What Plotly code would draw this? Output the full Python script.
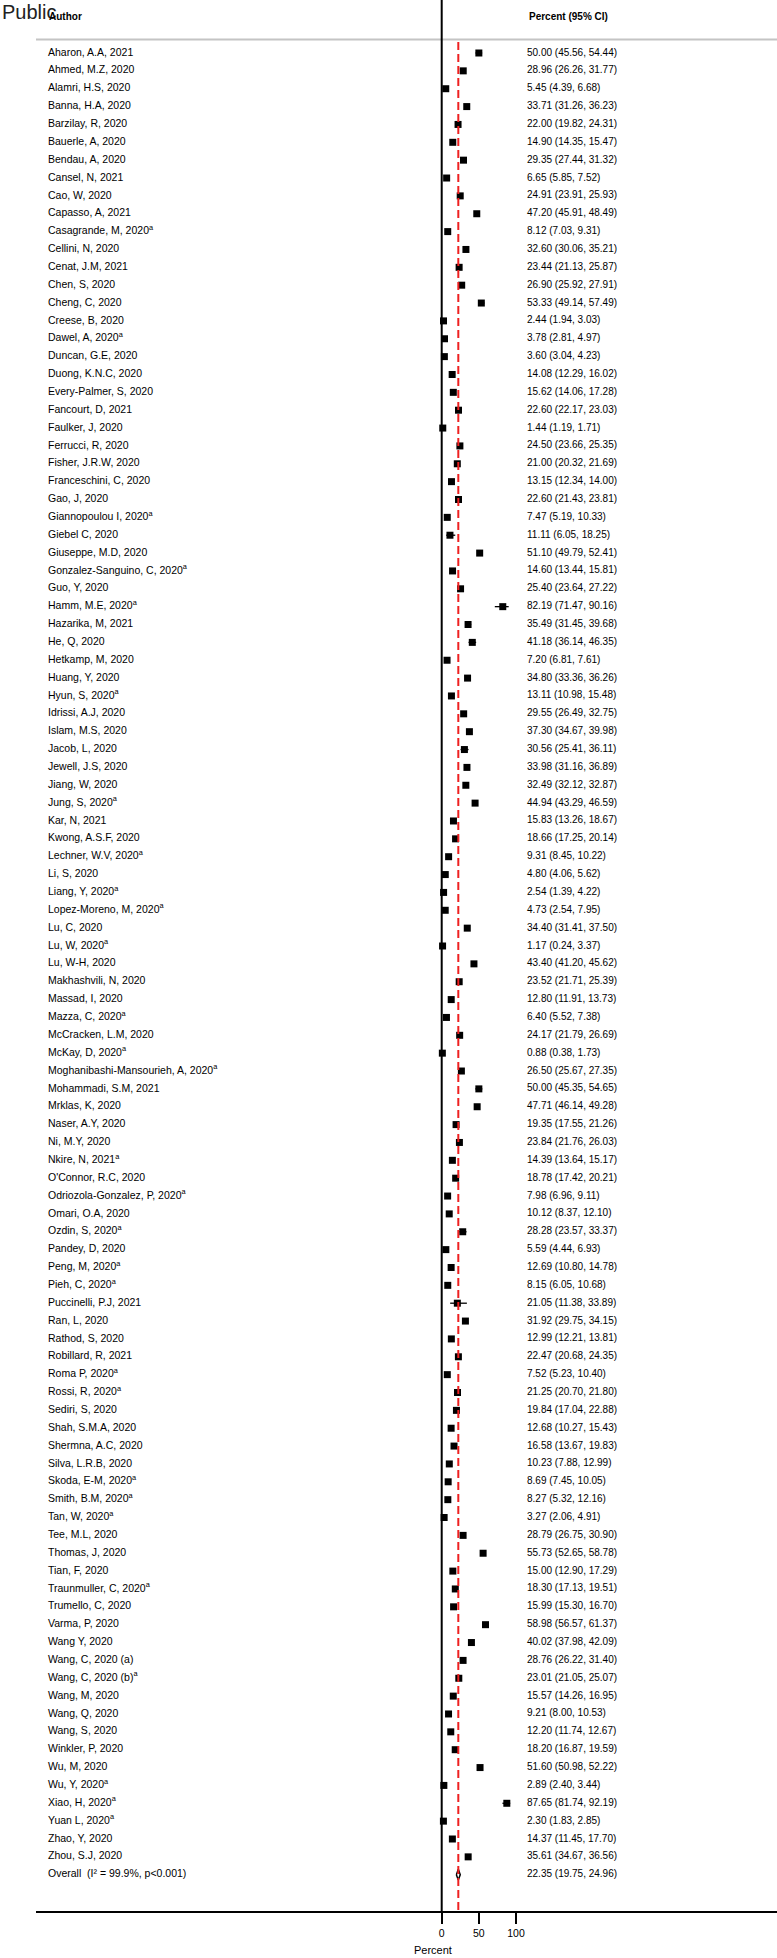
import plotly.graph_objects as go

authors = [
    "Aharon, A.A, 2021", "Ahmed, M.Z, 2020", "Alamri, H.S, 2020", "Banna, H.A, 2020",
    "Barzilay, R, 2020", "Bauerle, A, 2020", "Bendau, A, 2020", "Cansel, N, 2021",
    "Cao, W, 2020", "Capasso, A, 2021", "Casagrande, M, 2020<sup>a</sup>", "Cellini, N, 2020",
    "Cenat, J.M, 2021", "Chen, S, 2020", "Cheng, C, 2020", "Creese, B, 2020",
    "Dawel, A, 2020<sup>a</sup>", "Duncan, G.E, 2020", "Duong, K.N.C, 2020", "Every-Palmer, S, 2020",
    "Fancourt, D, 2021", "Faulker, J, 2020", "Ferrucci, R, 2020", "Fisher, J.R.W, 2020",
    "Franceschini, C, 2020", "Gao, J, 2020", "Giannopoulou I, 2020<sup>a</sup>", "Giebel C, 2020",
    "Giuseppe, M.D, 2020", "Gonzalez-Sanguino, C, 2020<sup>a</sup>", "Guo, Y, 2020", "Hamm, M.E, 2020<sup>a</sup>",
    "Hazarika, M, 2021", "He, Q, 2020", "Hetkamp, M, 2020", "Huang, Y, 2020",
    "Hyun, S, 2020<sup>a</sup>", "Idrissi, A.J, 2020", "Islam, M.S, 2020", "Jacob, L, 2020",
    "Jewell, J.S, 2020", "Jiang, W, 2020", "Jung, S, 2020<sup>a</sup>", "Kar, N, 2021",
    "Kwong, A.S.F, 2020", "Lechner, W.V, 2020<sup>a</sup>", "Li, S, 2020", "Liang, Y, 2020<sup>a</sup>",
    "Lopez-Moreno, M, 2020<sup>a</sup>", "Lu, C, 2020", "Lu, W, 2020<sup>a</sup>", "Lu, W-H, 2020",
    "Makhashvili, N, 2020", "Massad, I, 2020", "Mazza, C, 2020<sup>a</sup>", "McCracken, L.M, 2020",
    "McKay, D, 2020<sup>a</sup>", "Moghanibashi-Mansourieh, A, 2020<sup>a</sup>", "Mohammadi, S.M, 2021", "Mrklas, K, 2020",
    "Naser, A.Y, 2020", "Ni, M.Y, 2020", "Nkire, N, 2021<sup>a</sup>", "O'Connor, R.C, 2020",
    "Odriozola-Gonzalez, P, 2020<sup>a</sup>", "Omari, O.A, 2020", "Ozdin, S, 2020<sup>a</sup>", "Pandey, D, 2020",
    "Peng, M, 2020<sup>a</sup>", "Pieh, C, 2020<sup>a</sup>", "Puccinelli, P.J, 2021", "Ran, L, 2020",
    "Rathod, S, 2020", "Robillard, R, 2021", "Roma P, 2020<sup>a</sup>", "Rossi, R, 2020<sup>a</sup>",
    "Sediri, S, 2020", "Shah, S.M.A, 2020", "Shermna, A.C, 2020", "Silva, L.R.B, 2020",
    "Skoda, E-M, 2020<sup>a</sup>", "Smith, B.M, 2020<sup>a</sup>", "Tan, W, 2020<sup>a</sup>", "Tee, M.L, 2020",
    "Thomas, J, 2020", "Tian, F, 2020", "Traunmuller, C, 2020<sup>a</sup>", "Trumello, C, 2020",
    "Varma, P, 2020", "Wang Y, 2020", "Wang, C, 2020 (a)", "Wang, C, 2020 (b)<sup>a</sup>",
    "Wang, M, 2020", "Wang, Q, 2020", "Wang, S, 2020", "Winkler, P, 2020",
    "Wu, M, 2020", "Wu, Y, 2020<sup>a</sup>", "Xiao, H, 2020<sup>a</sup>", "Yuan L, 2020<sup>a</sup>",
    "Zhao, Y, 2020", "Zhou, S.J, 2020",
]

est = [50.00, 28.96, 5.45, 33.71, 22.00, 14.90, 29.35, 6.65, 24.91, 47.20, 8.12, 32.60,
       23.44, 26.90, 53.33, 2.44, 3.78, 3.60, 14.08, 15.62, 22.60, 1.44, 24.50, 21.00,
       13.15, 22.60, 7.47, 11.11, 51.10, 14.60, 25.40, 82.19, 35.49, 41.18, 7.20, 34.80,
       13.11, 29.55, 37.30, 30.56, 33.98, 32.49, 44.94, 15.83, 18.66, 9.31, 4.80, 2.54,
       4.73, 34.40, 1.17, 43.40, 23.52, 12.80, 6.40, 24.17, 0.88, 26.50, 50.00, 47.71,
       19.35, 23.84, 14.39, 18.78, 7.98, 10.12, 28.28, 5.59, 12.69, 8.15, 21.05, 31.92,
       12.99, 22.47, 7.52, 21.25, 19.84, 12.68, 16.58, 10.23, 8.69, 8.27, 3.27, 28.79,
       55.73, 15.00, 18.30, 15.99, 58.98, 40.02, 28.76, 23.01, 15.57, 9.21, 12.20, 18.20,
       51.60, 2.89, 87.65, 2.30, 14.37, 35.61]

lo = [45.56, 26.26, 4.39, 31.26, 19.82, 14.35, 27.44, 5.85, 23.91, 45.91, 7.03, 30.06,
      21.13, 25.92, 49.14, 1.94, 2.81, 3.04, 12.29, 14.06, 22.17, 1.19, 23.66, 20.32,
      12.34, 21.43, 5.19, 6.05, 49.79, 13.44, 23.64, 71.47, 31.45, 36.14, 6.81, 33.36,
      10.98, 26.49, 34.67, 25.41, 31.16, 32.12, 43.29, 13.26, 17.25, 8.45, 4.06, 1.39,
      2.54, 31.41, 0.24, 41.20, 21.71, 11.91, 5.52, 21.79, 0.38, 25.67, 45.35, 46.14,
      17.55, 21.76, 13.64, 17.42, 6.96, 8.37, 23.57, 4.44, 10.80, 6.05, 11.38, 29.75,
      12.21, 20.68, 5.23, 20.70, 17.04, 10.27, 13.67, 7.88, 7.45, 5.32, 2.06, 26.75,
      52.65, 12.90, 17.13, 15.30, 56.57, 37.98, 26.22, 21.05, 14.26, 8.00, 11.74, 16.87,
      50.98, 2.40, 81.74, 1.83, 11.45, 34.67]

hi = [54.44, 31.77, 6.68, 36.23, 24.31, 15.47, 31.32, 7.52, 25.93, 48.49, 9.31, 35.21,
      25.87, 27.91, 57.49, 3.03, 4.97, 4.23, 16.02, 17.28, 23.03, 1.71, 25.35, 21.69,
      14.00, 23.81, 10.33, 18.25, 52.41, 15.81, 27.22, 90.16, 39.68, 46.35, 7.61, 36.26,
      15.48, 32.75, 39.98, 36.11, 36.89, 32.87, 46.59, 18.67, 20.14, 10.22, 5.62, 4.22,
      7.95, 37.50, 3.37, 45.62, 25.39, 13.73, 7.38, 26.69, 1.73, 27.35, 54.65, 49.28,
      21.26, 26.03, 15.17, 20.21, 9.11, 12.10, 33.37, 6.93, 14.78, 10.68, 33.89, 34.15,
      13.81, 24.35, 10.40, 21.80, 22.88, 15.43, 19.83, 12.99, 10.05, 12.16, 4.91, 30.90,
      58.78, 17.29, 19.51, 16.70, 61.37, 42.09, 31.40, 25.07, 16.95, 10.53, 12.67, 19.59,
      52.22, 3.44, 92.19, 2.85, 17.70, 36.56]

overall_label = "Overall\u00a0\u00a0(I\u00b2 = 99.9%, p<0.001)"
overall_est, overall_lo, overall_hi = 22.35, 19.75, 24.96
tick_vals = [0, 50, 100]

# ---- geometry (pixel mapping) ----
W, H = 777, 1958
ML, MB = 36, 47
PLOT_W, PLOT_H = W - ML, H - MB
X0PX, PXU = 441.7, 0.743          # pixel of value 0, px per unit
ROW0PX, ROWPX = 53.0, 17.86         # pixel of first row, px per row

def v_of(px):
    return (px - X0PX) / PXU

def r_of(py):
    return (py - ROW0PX) / ROWPX

xr = [v_of(ML), v_of(W)]
yr = [r_of(PLOT_H), r_of(0)]

n = len(authors)
rows = list(range(n))
orow = n

font = "Liberation Sans, Arial, Helvetica, sans-serif"
fs = 10.5

fig = go.Figure()

# study estimates with CI
fig.add_trace(go.Scatter(
    x=est, y=rows, mode="markers",
    marker=dict(symbol="square", size=7, color="black", line=dict(width=0)),
    error_x=dict(type="data", symmetric=False,
                 array=[h - e for h, e in zip(hi, est)],
                 arrayminus=[e - l for e, l in zip(est, lo)],
                 thickness=1.3, width=0, color="black"),
    hoverinfo="skip", showlegend=False,
))

# overall diamond
dh = 0.3
fig.add_trace(go.Scatter(
    x=[overall_lo, overall_est, overall_hi, overall_est, overall_lo],
    y=[orow, orow - dh, orow, orow + dh, orow],
    mode="lines", fill="toself", fillcolor="white",
    line=dict(color="black", width=1.5),
    hoverinfo="skip", showlegend=False,
))

# author labels
fig.add_trace(go.Scatter(
    x=[v_of(48)] * (n + 1), y=rows + [orow], mode="text",
    text=authors + [overall_label], textposition="middle right",
    textfont=dict(family=font, size=fs, color="black"),
    hoverinfo="skip", showlegend=False, cliponaxis=False,
))

# value labels
vals = [f"{e:.2f} ({l:.2f}, {h:.2f})" for e, l, h in zip(est, lo, hi)]
vals.append(f"{overall_est:.2f} ({overall_lo:.2f}, {overall_hi:.2f})")
fig.add_trace(go.Scatter(
    x=[v_of(527)] * (n + 1), y=rows + [orow], mode="text",
    text=vals, textposition="middle right",
    textfont=dict(family=font, size=10, color="black"),
    hoverinfo="skip", showlegend=False, cliponaxis=False,
))

shapes = [
    # header rule
    dict(type="line", xref="paper", yref="y", x0=0, x1=1, y0=r_of(39.5), y1=r_of(39.5),
         line=dict(color="#c4c4c4", width=2), layer="below"),
    # null line at 0
    dict(type="line", xref="x", yref="paper", x0=0, x1=0, y0=0, y1=1,
         line=dict(color="black", width=2)),
    # overall estimate dashed line
    dict(type="line", xref="x", yref="y", x0=overall_est, x1=overall_est,
         y0=r_of(42), y1=yr[0], line=dict(color="#ee2020", width=2, dash="8px,4px")),
]

annotations = [
    dict(text="Public", xref="paper", yref="paper", x=(0 - ML) / PLOT_W, y=1 - 12 / PLOT_H,
         xanchor="left", yanchor="middle", showarrow=False,
         font=dict(family=font, size=20, color="#222")),
    dict(text="<b>Author</b>", xref="paper", yref="paper", x=(47 - ML) / PLOT_W, y=1 - 16 / PLOT_H,
         xanchor="left", yanchor="middle", showarrow=False,
         font=dict(family=font, size=10, color="black")),
    dict(text="<b>Percent (95% CI)</b>", xref="paper", yref="paper", x=(527 - ML) / PLOT_W, y=1 - 17 / PLOT_H,
         xanchor="left", yanchor="middle", showarrow=False,
         font=dict(family=font, size=10, color="black")),
    dict(text="Percent", xref="x", yref="paper", x=v_of(433), y=1 - 1950 / PLOT_H,
         xanchor="center", yanchor="middle", showarrow=False,
         font=dict(family=font, size=11, color="black")),
]

fig.update_layout(
    width=W, height=H,
    margin=dict(l=ML, r=0, t=0, b=MB, pad=0),
    plot_bgcolor="white", paper_bgcolor="white",
    shapes=shapes, annotations=annotations,
    xaxis=dict(range=xr, showgrid=False, zeroline=False, showline=True,
               linecolor="black", linewidth=2, ticks="outside", ticklen=11,
               tickwidth=2, tickcolor="black", tickvals=tick_vals,
               tickfont=dict(family=font, size=fs, color="black")),
    yaxis=dict(range=yr, showgrid=False, zeroline=False, showline=False,
               showticklabels=False, ticks=""),
)

fig.write_html(
    "out.html",
    config={"displayModeBar": False, "staticPlot": True},
    post_script="document.documentElement.style.margin='0';document.body.style.margin='0';"
                "document.body.style.padding='0';document.body.style.overflow='hidden';",
)
